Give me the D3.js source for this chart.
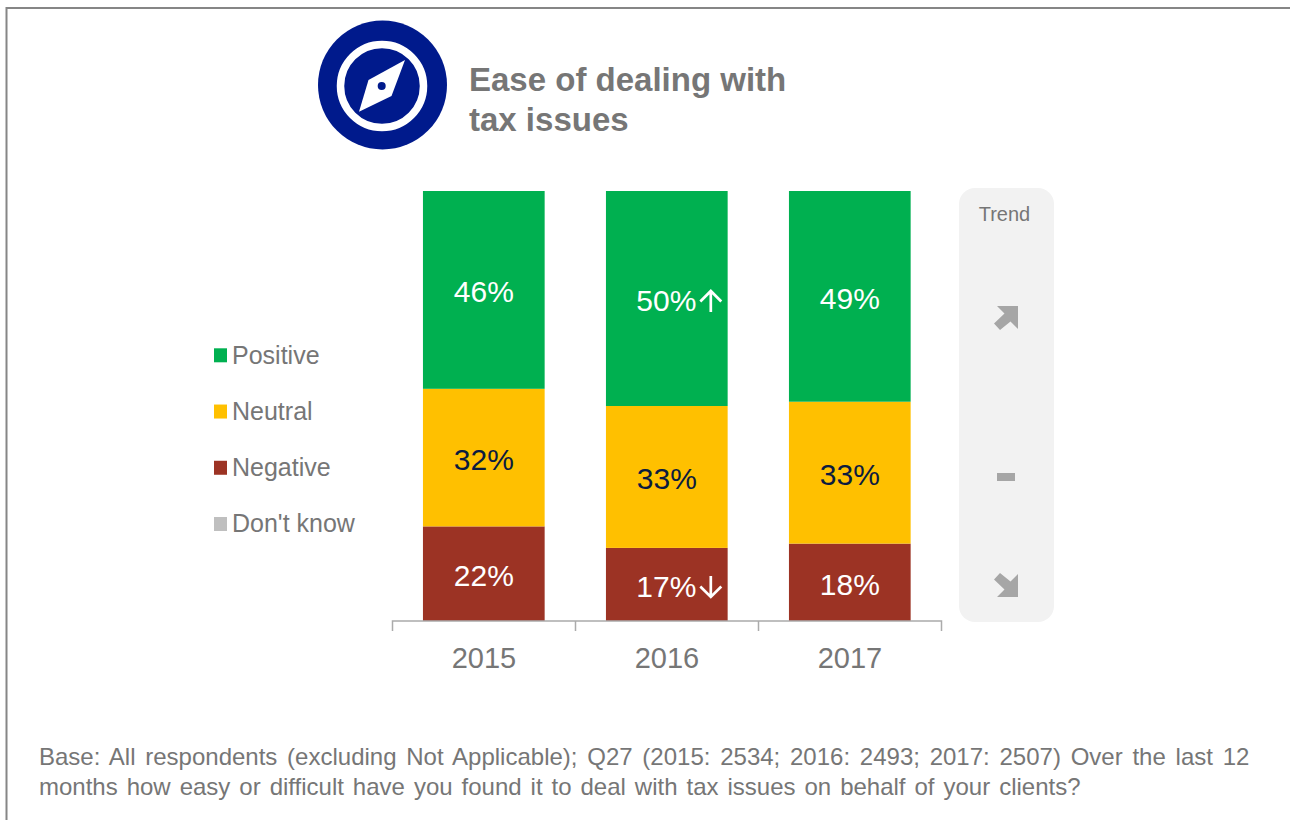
<!DOCTYPE html>
<html><head><meta charset="utf-8">
<script src="https://cdn.jsdelivr.net/npm/d3@7/dist/d3.min.js"></script>
<style>html,body{margin:0;padding:0;background:#fff}svg{display:block}text{font-family:"Liberation Sans",Arial,sans-serif}</style>
</head><body><svg id="c" width="1290" height="820"></svg>
<script>
const years = ["2015","2016","2017"];
const seriesNames = ["Positive","Neutral","Negative"];
const positive = [46,50,49];
const neutral = [32,33,33];
const negative = [22,17,18];
const legendNames = ["Positive","Neutral","Negative","Don't know"];
const markers = {"2016":{Positive:"up",Negative:"down"}};
const titleLines = ["Ease of dealing with","tax issues"];
const footLines = ["Base: All respondents (excluding Not Applicable); Q27 (2015: 2534; 2016: 2493; 2017: 2507) Over the last 12","months how easy or difficult have you found it to deal with tax issues on behalf of your clients?"];

const colors = d3.scaleOrdinal().domain(legendNames).range(["#00b050","#ffc000","#9c3324","#bfbfbf"]);
const labelColors = {Positive:"#fff",Neutral:"#0b1b3f",Negative:"#fff"};
const grey = "#767676";
const svg = d3.select("#c");

// frame
svg.append("path").attr("d","M6.5,820V8H1290").attr("fill","none").attr("stroke","#868686").attr("stroke-width",2);

// icon
const ic = svg.append("g").attr("transform","translate(382.5,85)");
ic.append("circle").attr("r",64.5).attr("fill","#001a8c");
ic.append("circle").attr("cx",-0.5).attr("cy",1).attr("r",41.5).attr("fill","none").attr("stroke","#fff").attr("stroke-width",7.5);
ic.append("path").attr("d","M22.5,-25L9,11L-23.5,26.7L-14,-5Z").attr("fill","#fff");
ic.append("circle").attr("cx",-0.8).attr("cy",1).attr("r",4).attr("fill","#001a8c");

// title
svg.append("g").selectAll("text").data(titleLines).join("text")
  .attr("x",469).attr("y",(d,i)=>91+i*40).attr("font-size",33).attr("font-weight",700).attr("fill",grey).text(d=>d);

// scales
const x = d3.scaleBand().domain(years).range([392.3,941.3]).paddingInner(0.335).paddingOuter(0.1675);
const y = d3.scaleLinear().domain([0,100]).range([621,191]);
const rows = years.map((yr,i)=>({year:yr,Positive:positive[i],Neutral:neutral[i],Negative:negative[i]}));
const stacked = d3.stack().keys(["Negative","Neutral","Positive"])(rows);

const g = svg.append("g").selectAll("g").data(stacked).join("g");
g.selectAll("rect").data(s=>s.map(p=>({key:s.key,p}))).join("rect")
  .attr("x",d=>x(d.p.data.year)).attr("width",x.bandwidth())
  .attr("y",d=>y(d.p[1])).attr("height",d=>y(d.p[0])-y(d.p[1]))
  .attr("fill",d=>colors(d.key));

// value labels
g.selectAll("text").data(s=>s.map(p=>({key:s.key,p}))).join("text")
  .attr("x",d=>x(d.p.data.year)+x.bandwidth()/2-(markers[d.p.data.year]&&markers[d.p.data.year][d.key]?0.5:0))
  .attr("y",d=>(y(d.p[0])+y(d.p[1]))/2+12.5)
  .attr("text-anchor","middle").attr("font-size",30)
  .attr("fill",d=>labelColors[d.key]).text(d=>(d.p[1]-d.p[0])+"%");

// significance arrows
const sig = [];
stacked.forEach(s=>s.forEach(p=>{const m=markers[p.data.year];if(m&&m[s.key])sig.push({dir:m[s.key],p});}));
svg.append("g").selectAll("path").data(sig).join("path")
  .attr("transform",d=>`translate(${x(d.p.data.year)+x.bandwidth()/2+44},${(y(d.p[0])+y(d.p[1]))/2+2.5})${d.dir==="down"?" scale(1,-1)":""}`)
  .attr("d","M0,11V-10M-10.5,0.5L0,-10L10.5,0.5").attr("fill","none").attr("stroke","#fff").attr("stroke-width",2.7);

// axis
const axis = svg.append("g");
axis.append("path").attr("d",`M392.5,631V621H941.5V631`).attr("fill","none").attr("stroke","#ababab").attr("stroke-width",1.5);
axis.selectAll("line").data(years.slice(1)).join("line")
  .attr("x1",d=>Math.round(x(d)-x.step()*0.1675)+.5).attr("x2",d=>Math.round(x(d)-x.step()*0.1675)+.5)
  .attr("y1",621).attr("y2",631).attr("stroke","#ababab").attr("stroke-width",1.5);
axis.selectAll("text").data(years).join("text")
  .attr("x",d=>x(d)+x.bandwidth()/2+0.2).attr("y",668).attr("text-anchor","middle")
  .attr("font-size",29).attr("fill",grey).text(d=>d);

// legend
const ly = d3.scalePoint().domain(legendNames).range([355.3,524]);
const lg = svg.append("g").selectAll("g").data(legendNames).join("g");
lg.append("rect").attr("x",214).attr("y",d=>ly(d)-7).attr("width",13).attr("height",14).attr("fill",d=>colors(d));
lg.append("text").attr("x",232).attr("y",d=>ly(d)+8.3).attr("font-size",25).attr("fill",grey).text(d=>d);

// trend panel
svg.append("rect").attr("x",959).attr("y",188).attr("width",95).attr("height",434).attr("rx",16).attr("fill","#f2f2f2");
svg.append("text").attr("x",1004.5).attr("y",221).attr("text-anchor","middle").attr("font-size",20).attr("fill",grey).text("Trend");
const trendArrow = "M-9,-12H12V11L4.5,3.5L-6,12L-12,5.5L-1.5,-4.5Z";
svg.append("path").attr("transform","translate(1006,318)").attr("d",trendArrow).attr("fill","#a6a6a6");
svg.append("rect").attr("x",997).attr("y",473).attr("width",18).attr("height",8).attr("fill","#a6a6a6");
svg.append("path").attr("transform","translate(1006,585) scale(1,-1)").attr("d",trendArrow).attr("fill","#a6a6a6");

// footnote
const footSpacing = [3.1,2.3];
svg.append("g").selectAll("text").data(footLines).join("text")
  .attr("x",39).attr("y",(d,i)=>765+i*30).attr("font-size",24).attr("word-spacing",(d,i)=>footSpacing[i]).attr("fill",grey).text(d=>d);
</script></body></html>
